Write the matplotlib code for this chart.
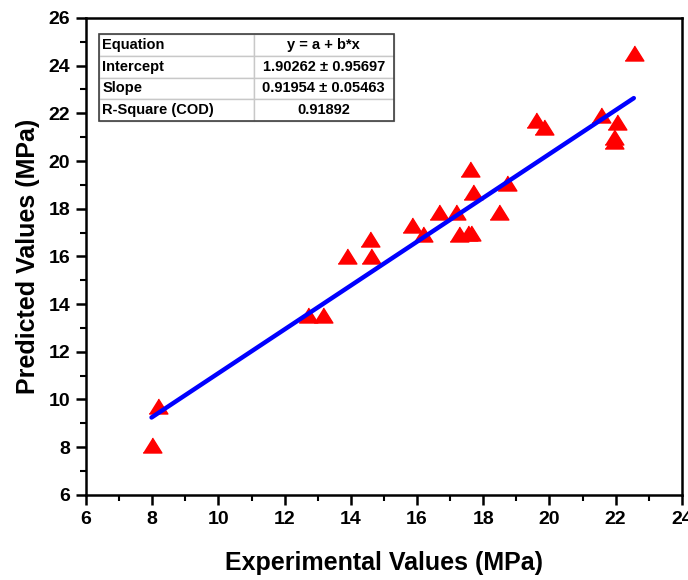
import numpy as np
import matplotlib.pyplot as plt
from matplotlib.patches import Rectangle
from matplotlib.ticker import MultipleLocator

plt.rcParams['font.family'] = ['Liberation Sans', 'DejaVu Sans']
plt.rcParams['font.weight'] = 'bold'

# experimental vs predicted (MPa)
experimental = [7.98, 8.18, 12.71, 13.17, 13.87, 14.58, 14.61, 15.86, 16.17,
                16.66, 17.17, 17.27, 17.54, 17.63, 17.61, 17.70, 18.47, 18.72,
                19.58, 19.84, 21.55, 21.95, 21.95, 22.03, 22.55]
predicted = [8.10, 9.72, 13.56, 13.56, 16.03, 16.73, 16.02, 17.30, 16.94,
             17.88, 17.88, 16.94, 16.98, 16.98, 19.65, 18.71, 17.88, 19.07,
             21.72, 21.44, 21.92, 20.99, 20.84, 21.62, 24.55]

intercept = 1.90262
slope = 0.91954

table_rows = [['Equation', 'y = a + b*x'],
              ['Intercept', '1.90262 \u00b1 0.95697'],
              ['Slope', '0.91954 \u00b1 0.05463'],
              ['R-Square (COD)', '0.91892']]

fig = plt.figure(figsize=(6.88, 5.8), dpi=100)
ax = fig.add_axes([0.125, 0.147, 0.866, 0.822])

tri = [(-1, -0.8), (1, -0.8), (0, 0.8)]
ax.plot(experimental, predicted, linestyle='none', marker=tri, markersize=13.5,
        color='red', zorder=3)

xs = np.array([min(experimental), max(experimental)])
ax.plot(xs, intercept + slope * xs, color='blue', linewidth=3.2,
        solid_capstyle='round', zorder=4)

ax.set_xlim(6, 24)
ax.set_ylim(6, 26)
ax.xaxis.set_major_locator(MultipleLocator(2))
ax.xaxis.set_minor_locator(MultipleLocator(1))
ax.yaxis.set_major_locator(MultipleLocator(2))
ax.yaxis.set_minor_locator(MultipleLocator(1))
ax.tick_params(which='major', direction='out', length=7.5, width=1.8, labelsize=14, pad=4)
ax.tick_params(which='minor', direction='out', length=4.3, width=1.5)
for s in ax.spines.values():
    s.set_linewidth(1.8)

ax.set_xlabel('Experimental Values (MPa)', fontsize=18, fontweight='bold', labelpad=17)
ax.set_ylabel('Predicted Values (MPa)', fontsize=18, fontweight='bold', labelpad=6)

# fit statistics table
tbl = ax.table(cellText=table_rows, bbox=[0.0223, 0.784, 0.494, 0.182],
               colWidths=[0.525, 0.475], zorder=5)
tbl.auto_set_font_size(False)
for (r, c), cell in tbl.get_celld().items():
    cell.set_edgecolor('#c8c8c8')
    cell.set_linewidth(1.0)
    cell.get_text().set_fontsize(10.5)
    cell.get_text().set_fontweight('bold')
    if c == 0:
        cell.get_text().set_ha('left')
        cell.PAD = 0.02
    else:
        cell.get_text().set_ha('center')
ax.add_patch(Rectangle((0.0223, 0.784), 0.494, 0.182, transform=ax.transAxes,
                       fill=False, edgecolor='#404040', linewidth=1.2, zorder=6))

fig.savefig('out.png', dpi=100)
